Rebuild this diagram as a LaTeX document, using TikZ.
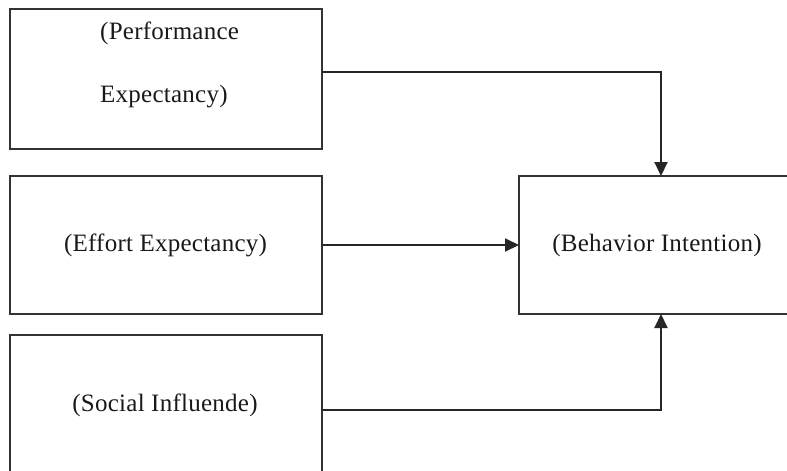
\documentclass[tikz,border=0pt]{standalone}
\usepackage{fontspec}
\setmainfont{Liberation Serif}
\usetikzlibrary{arrows.meta}
\begin{document}
\begin{tikzpicture}[x=1pt,y=-1pt,
  box/.style={draw=black!80, line width=2pt, inner sep=0pt, outer sep=0pt, anchor=north west},
  lbl/.style={font=\fontsize{25}{25}\selectfont\addfontfeature{LetterSpace=1}, inner sep=0pt, text=black!90},
  conn/.style={draw=black!85, line width=2pt, -{Triangle[length=14pt,width=13pt]}}]
\useasboundingbox (0,0) rectangle (787,471);
\clip (0,0) rectangle (787,471);
\node[box, minimum width=312pt, minimum height=140pt] (b1) at (10,8.5) {};
\node[box, minimum width=312pt, minimum height=138pt] (b2) at (10,176) {};
\node[box, minimum width=312pt, minimum height=142pt] (b3) at (10,335) {};
\node[box, minimum width=276pt, minimum height=138pt] (b4) at (519,176) {};
\node[lbl, anchor=west] (t1a) at (100,33) {(Performance};
\node[lbl, anchor=west] (t1b) at (100,97) {Expectancy)};
\node[lbl] (t2) at (165.5,245) {(Effort Expectancy)};
\node[lbl] (t3) at (165,405) {(Social Influende)};
\node[lbl] (t4) at (657,245) {(Behavior Intention)};
\draw[conn] (b1.east |- 0,72) -| ([xshift=4pt]b4.north);
\draw[conn] (b2.east) -- (b4.west);
\draw[conn] (b3.east |- 0,410) -| ([xshift=4pt]b4.south);
\end{tikzpicture}
\end{document}
